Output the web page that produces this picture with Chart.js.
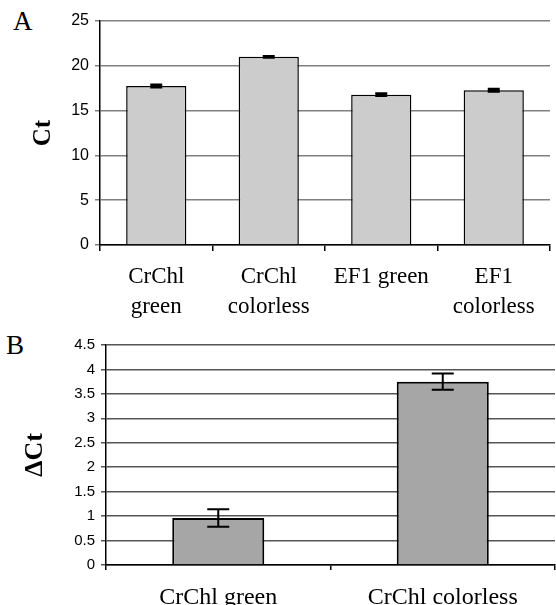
<!DOCTYPE html>
<html>
<head>
<meta charset="utf-8">
<script src="https://cdn.jsdelivr.net/npm/chart.js@4"></script>
<style>
  body { margin: 0; background: #fff; width: 556px; height: 605px; position: relative; overflow: hidden; }
  .panel { position: absolute; left: 0; }
  .tag { position: absolute; font-family: "Liberation Serif", "Times New Roman", serif; font-size: 27px; line-height: 1; color: #000; }
</style>
</head>
<body>
<div class="tag" style="left:13px; top:8px;">A</div>
<div class="tag" style="left:6px; top:332px;">B</div>
<div class="panel" style="top:0; width:556px; height:320px;"><canvas id="chartA" width="556" height="320"></canvas></div>
<div class="panel" style="top:325px; width:556px; height:280px;"><canvas id="chartB" width="556" height="280"></canvas></div>
<script>
// Panel A data
const labelsA = [['CrChl', 'green'], ['CrChl', 'colorless'], 'EF1 green', ['EF1', 'colorless']];
const ctA = [17.75, 21.0, 16.78, 17.27];
const errA = [0.12, 0.05, 0.1, 0.12];

// Panel B data
const labelsB = ['CrChl green', 'CrChl colorless'];
const dctB = [0.96, 3.75];
const errB = [0.18, 0.165];

const serif = '"Liberation Serif", "Times New Roman", serif';
const sans = '"Liberation Sans", Arial, sans-serif';

// simple error bar drawer using the chart's own scales
const errorBars = {
  id: 'errorBars',
  afterDatasetsDraw(chart, args, opts) {
    const ctx = chart.ctx;
    const y = chart.scales.y;
    const meta = chart.getDatasetMeta(0);
    const vals = chart.data.datasets[0].data;
    ctx.save();
    ctx.strokeStyle = '#000';
    ctx.lineWidth = opts.lineWidth || 2;
    meta.data.forEach((bar, i) => {
      const top = y.getPixelForValue(vals[i] + opts.errors[i]);
      const bot = y.getPixelForValue(vals[i] - opts.errors[i]);
      const w = opts.cap / 2;
      ctx.beginPath();
      ctx.moveTo(bar.x, top); ctx.lineTo(bar.x, bot);
      ctx.moveTo(bar.x - w, top); ctx.lineTo(bar.x + w, top);
      ctx.moveTo(bar.x - w, bot); ctx.lineTo(bar.x + w, bot);
      ctx.stroke();
    });
    ctx.restore();
  }
};

new Chart(document.getElementById('chartA'), {
  type: 'bar',
  data: {
    labels: labelsA,
    datasets: [{
      data: ctA,
      backgroundColor: '#cccccc',
      borderColor: '#000',
      borderWidth: 1.5,
      barPercentage: 0.535,
      categoryPercentage: 1
    }]
  },
  options: {
    responsive: false,
    animation: false,
    layout: { padding: { top: 21, right: 6, left: 0, bottom: 0 } },
    plugins: {
      legend: { display: false },
      tooltip: { enabled: false },
      errorBars: { errors: errA, cap: 12, lineWidth: 3 }
    },
    scales: {
      x: {
        grid: { drawOnChartArea: false, tickLength: 6, color: '#000', lineWidth: 1.5 },
        border: { color: '#000', width: 1.5 },
        ticks: { color: '#000', font: { family: serif, size: 23, lineHeight: 1.3 }, padding: 11, maxRotation: 0 },
        afterFit(scale) { scale.height = 75; }
      },
      y: {
        min: 0, max: 25,
        ticks: { stepSize: 5, color: '#000', font: { family: sans, size: 16 }, padding: 6 },
        grid: { color: '#808080', lineWidth: 1.5, tickLength: 5 },
        border: { color: '#000', width: 1.5 },
        title: { display: true, text: 'Ct', color: '#000', font: { family: serif, size: 25, weight: 'bold' }, padding: { top: 29, bottom: 0 } },
        afterFit(scale) { scale.width = 100; }
      }
    }
  },
  plugins: [errorBars]
});

new Chart(document.getElementById('chartB'), {
  type: 'bar',
  data: {
    labels: labelsB,
    datasets: [{
      data: dctB,
      backgroundColor: '#a6a6a6',
      borderColor: '#000',
      borderWidth: 2,
      barPercentage: 0.41,
      categoryPercentage: 1
    }]
  },
  options: {
    responsive: false,
    animation: false,
    layout: { padding: { top: 20, right: 1, left: 0, bottom: 0 } },
    plugins: {
      legend: { display: false },
      tooltip: { enabled: false },
      errorBars: { errors: errB, cap: 22, lineWidth: 2 }
    },
    scales: {
      x: {
        grid: { drawOnChartArea: false, tickLength: 5, color: '#000', lineWidth: 1.5 },
        border: { color: '#000', width: 1.5 },
        ticks: { color: '#000', font: { family: serif, size: 24 }, padding: 13, maxRotation: 0 },
        afterFit(scale) { scale.height = 40; }
      },
      y: {
        min: 0, max: 4.5,
        ticks: { stepSize: 0.5, color: '#000', font: { family: sans, size: 15 }, padding: 6, callback: v => String(v) },
        grid: { color: '#555', lineWidth: 1.5, tickLength: 5 },
        border: { color: '#000', width: 1.5 },
        title: { display: true, text: 'ΔCt', color: '#000', font: { family: serif, size: 26, weight: 'bold' }, padding: { top: 20, bottom: 0 } },
        afterFit(scale) { scale.width = 106; }
      }
    }
  },
  plugins: [errorBars]
});
</script>
</body>
</html>
